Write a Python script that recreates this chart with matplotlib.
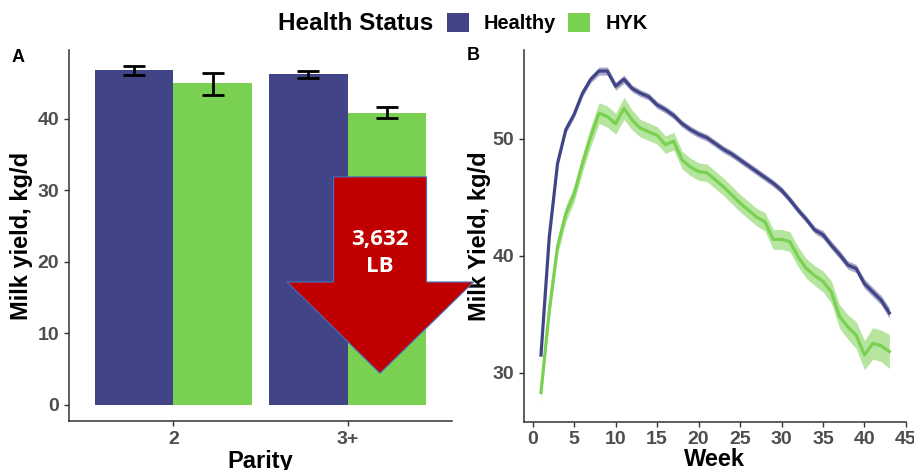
import matplotlib
matplotlib.use("Agg")
import matplotlib.pyplot as plt
from matplotlib.patches import Patch, Polygon
import numpy as np

plt.rcParams['font.family'] = ['Liberation Sans', 'DejaVu Sans']

HEALTHY_COLOR = "#414487"
HYK_COLOR = "#7AD151"
TICK_COLOR = "#4D4D4D"
AXIS_COLOR = "#333333"

# Panel A: mean daily milk yield by parity
parity = ["2", "3+"]
healthy_mean = [46.85, 46.25]
healthy_lo = [46.2, 45.8]
healthy_hi = [47.4, 46.75]
hyk_mean = [45.0, 40.8]
hyk_lo = [43.4, 40.1]
hyk_hi = [46.5, 41.7]

# Panel B: lactation curves by week
weeks = list(range(1, 44))
healthy_curve = [31.5, 41.6, 47.9, 50.8, 52.1, 53.9, 55.1, 55.8, 55.8, 54.5,
                 55.1, 54.3, 53.9, 53.6, 52.9, 52.5, 52.0, 51.3, 50.8, 50.4,
                 50.1, 49.6, 49.1, 48.7, 48.2, 47.7, 47.2, 46.7, 46.2, 45.6,
                 44.8, 43.9, 43.1, 42.2, 41.8, 40.9, 40.1, 39.2, 38.9, 37.6,
                 36.9, 36.2, 35.1]
healthy_se = [0.3, 0.3, 0.3, 0.3, 0.3, 0.3, 0.3, 0.35, 0.35, 0.35,
              0.35, 0.3, 0.3, 0.3, 0.3, 0.3, 0.3, 0.3, 0.3, 0.3,
              0.3, 0.3, 0.3, 0.3, 0.3, 0.3, 0.3, 0.3, 0.3, 0.3,
              0.3, 0.3, 0.3, 0.3, 0.35, 0.35, 0.35, 0.35, 0.35, 0.4,
              0.4, 0.4, 0.45]
hyk_curve = [28.3, 35.3, 40.8, 43.6, 45.3, 47.9, 50.2, 52.2, 51.9, 51.3,
             52.6, 51.6, 50.9, 50.6, 50.3, 49.5, 49.8, 48.2, 47.6, 47.2,
             47.1, 46.5, 45.9, 45.2, 44.5, 43.9, 43.3, 42.9, 41.4, 41.4,
             41.2, 39.9, 38.9, 38.3, 37.8, 36.9, 34.8, 33.9, 33.2, 31.5,
             32.5, 32.3, 31.8]
hyk_se = [0.7, 0.7, 0.7, 0.7, 0.7, 0.75, 0.85, 0.9, 0.9, 0.9,
          0.95, 0.85, 0.75, 0.75, 0.75, 0.75, 0.75, 0.75, 0.75, 0.75,
          0.75, 0.75, 0.75, 0.75, 0.75, 0.75, 0.75, 0.8, 0.85, 0.85,
          0.85, 0.85, 0.85, 0.85, 0.9, 0.95, 1.0, 1.05, 1.15, 1.25,
          1.35, 1.35, 1.45]

# Red arrow annotation (panel A data units)
arrow_shape = [(1.92, 31.9), (2.454, 31.9), (2.454, 17.2), (2.724, 17.2),
               (2.186, 4.43), (1.653, 17.2), (1.92, 17.2)]
arrow_text = ["3,632", "LB"]


def style_axes(ax, tick_size):
    for side in ("top", "right"):
        ax.spines[side].set_visible(False)
    for side in ("left", "bottom"):
        ax.spines[side].set_color(AXIS_COLOR)
        ax.spines[side].set_linewidth(1.1)
    ax.tick_params(axis="both", length=3.5, width=1.0, color=AXIS_COLOR,
                   labelcolor=TICK_COLOR, labelsize=tick_size)
    for lbl in ax.get_xticklabels() + ax.get_yticklabels():
        lbl.set_fontweight("bold")


fig = plt.figure(figsize=(9.14, 4.70), dpi=100)
ax_a = fig.add_axes([0.0755, 0.1043, 0.419, 0.7893])
ax_b = fig.add_axes([0.573, 0.1028, 0.4182, 0.7908])

# ---- Panel A
x = np.arange(1, len(parity) + 1)
width = 0.45
ax_a.bar(x - width / 2, healthy_mean, width, color=HEALTHY_COLOR)
ax_a.bar(x + width / 2, hyk_mean, width, color=HYK_COLOR)
for xs, mean, lo, hi in ((x - width / 2, healthy_mean, healthy_lo, healthy_hi),
                         (x + width / 2, hyk_mean, hyk_lo, hyk_hi)):
    mid = [(l + h) / 2 for l, h in zip(lo, hi)]
    half = [(h - l) / 2 for l, h in zip(lo, hi)]
    ax_a.errorbar(xs, mid, yerr=half, fmt="none", ecolor="black",
                  elinewidth=2, capsize=8, capthick=2)
ax_a.set_xlim(0.40, 2.60)
ax_a.set_ylim(-2.24, 49.65)
ax_a.set_xticks(x)
ax_a.set_xticklabels(parity)
ax_a.set_yticks([0, 10, 20, 30, 40])
style_axes(ax_a, 14)
ax_a.set_xlabel("Parity", fontsize=17, fontweight="bold", labelpad=2)
ax_a.set_ylabel("Milk yield, kg/d", fontsize=17, fontweight="bold", labelpad=3)

# ---- Panel B
ax_b.fill_between(weeks, np.array(healthy_curve) - np.array(healthy_se),
                  np.array(healthy_curve) + np.array(healthy_se),
                  color=HEALTHY_COLOR, alpha=0.45, linewidth=0)
ax_b.fill_between(weeks, np.array(hyk_curve) - np.array(hyk_se),
                  np.array(hyk_curve) + np.array(hyk_se),
                  color=HYK_COLOR, alpha=0.55, linewidth=0)
ax_b.plot(weeks, healthy_curve, color=HEALTHY_COLOR, linewidth=2.3)
ax_b.plot(weeks, hyk_curve, color=HYK_COLOR, linewidth=2.3)
ax_b.set_xlim(-1.08, 44.9)
ax_b.set_ylim(25.8, 57.6)
ax_b.set_xticks(range(0, 50, 5))
ax_b.set_yticks([30, 40, 50])
style_axes(ax_b, 14)
ax_b.set_xlabel("Week", fontsize=17, fontweight="bold", labelpad=0)
ax_b.set_ylabel("Milk Yield, kg/d", fontsize=17, fontweight="bold", labelpad=1)

# panel tags
fig.text(12 / 914, 1 - 57 / 470, "A", fontsize=13, fontweight="bold", va="center")
fig.text(467 / 914, 1 - 55 / 470, "B", fontsize=13, fontweight="bold", va="center")

# ---- Arrow drawn on top of both panels
arrow = Polygon(arrow_shape, closed=True, facecolor="#C00000",
                edgecolor="#4472C4", linewidth=0.8,
                transform=ax_a.transData, zorder=5)
fig.add_artist(arrow)
fig.text(2.186, 23.2, arrow_text[0], transform=ax_a.transData, ha="center",
         va="center", color="white", fontsize=16, fontweight="bold",
         family=["Open Sans", "DejaVu Sans"], zorder=6)
fig.text(2.186, 19.3, arrow_text[1], transform=ax_a.transData, ha="center",
         va="center", color="white", fontsize=16, fontweight="bold",
         family=["Open Sans", "DejaVu Sans"], zorder=6)

# ---- Legend
fig.text(433 / 914, 1 - 23 / 470, "Health Status", ha="right", va="center",
         fontsize=17.5, fontweight="bold")
handles = [Patch(facecolor=HEALTHY_COLOR, edgecolor="none"),
           Patch(facecolor=HYK_COLOR, edgecolor="none")]
leg = fig.legend(handles, ["Healthy", "HYK"], loc="center left",
                 bbox_to_anchor=(447 / 914, 1 - 23 / 470), ncol=2,
                 frameon=False, borderpad=0, borderaxespad=0,
                 handlelength=1.1, handleheight=1.05, handletextpad=0.75,
                 columnspacing=0.6, prop={"size": 14.4, "weight": "bold"})

fig.savefig("out.png", dpi=100)
